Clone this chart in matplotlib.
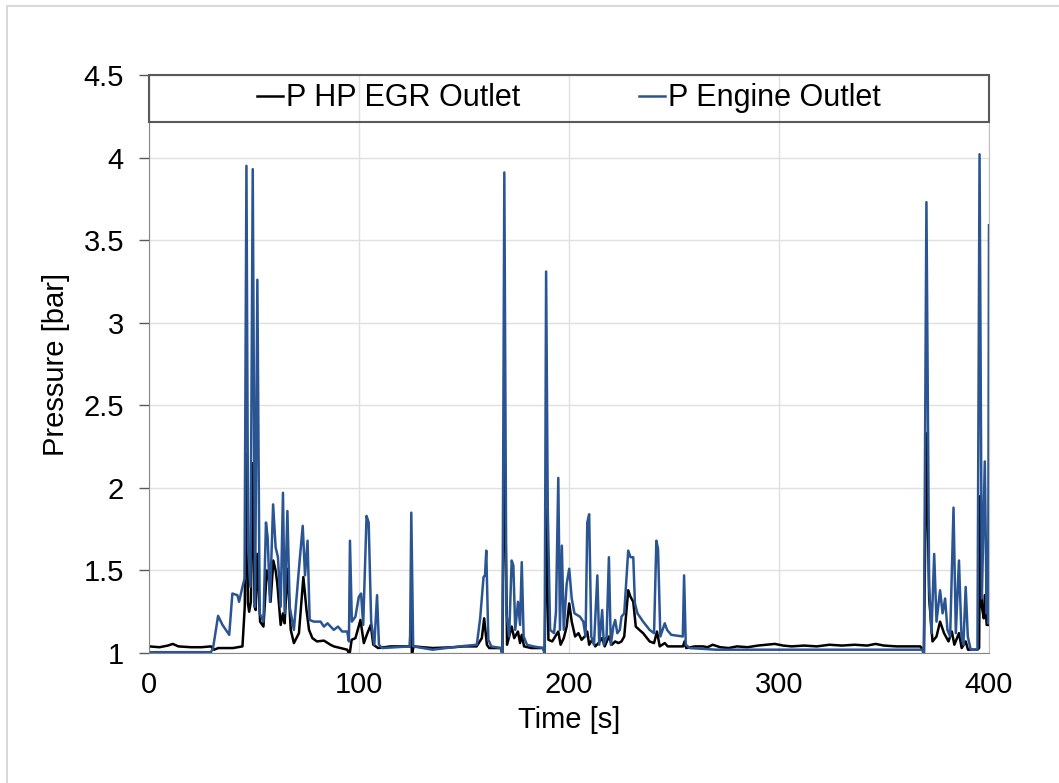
import numpy as np
import matplotlib
matplotlib.use('Agg')
import matplotlib.pyplot as plt
from matplotlib.patches import Rectangle
from matplotlib.lines import Line2D

# P Engine Outlet (blue)
t_engine = [0, 29.5, 30.5, 32.9, 35.0, 38.2, 39.7, 42.1, 42.9, 44.5, 45.5, 46.4, 47.2, 48.3,
            49.4, 50.5, 51.6, 52.7, 54.5, 55.7, 56.5, 57.6, 59.1, 60.3, 61.4, 62.7, 63.8,
            64.6, 65.9, 67.0, 69.0, 71.4, 73.2, 74.3, 75.5, 76.5, 78.5, 81.7, 83.3, 85.0,
            88.0, 90.0, 92.0, 94.4, 95.2, 95.7, 96.6, 98.3, 99.9, 101.0, 102.0, 103.6,
            104.6, 105.8, 107.3, 108.6, 109.5, 111.0, 124.3, 124.9, 125.8, 135.0, 148.0,
            156.1, 157.7, 159.3, 160.0, 160.6, 161.6, 163.0, 167.5, 168.3, 169.2, 170.2,
            171.5, 172.7, 173.5, 174.4, 175.7, 176.7, 177.5, 178.4, 180.0, 183.0, 187.8,
            188.4, 189.1, 189.9, 191.0, 192.9, 193.8, 194.9, 195.7, 196.6, 197.5, 198.9,
            200.1, 201.3, 202.6, 205.2, 206.8, 207.9, 208.7, 209.6, 210.6, 211.9, 213.5,
            214.4, 215.8, 216.6, 217.9, 219.0, 219.9, 221.1, 222.0, 223.0, 224.2, 225.0,
            226.3, 228.2, 229.3, 230.6, 231.4, 232.6, 235.3, 238.4, 240.5, 241.6, 242.4,
            243.5, 245.6, 246.7, 248.7, 254.2, 254.8, 255.6, 257.5, 270.0, 300.0, 368.3,
            369.0, 370.2, 371.5, 372.6, 373.9, 375.0, 376.7, 377.9, 379.1, 380.2, 381.5,
            383.1, 384.2, 385.7, 386.9, 387.8, 388.9, 389.9, 391.3, 394.5, 395.5, 396.6,
            398.0, 398.9, 399.3, 399.6, 400.0]
p_engine = [1.005, 1.005, 1.03, 1.225, 1.17, 1.11, 1.36, 1.35, 1.31, 1.40, 1.45, 3.95, 1.63, 1.40,
            3.93, 1.28, 3.26, 1.24, 1.19, 1.79, 1.70, 1.31, 1.90, 1.64, 1.58, 1.28, 1.97,
            1.24, 1.86, 1.28, 1.14, 1.51, 1.77, 1.47, 1.68, 1.20, 1.19, 1.19, 1.16, 1.18,
            1.14, 1.16, 1.13, 1.13, 1.07, 1.68, 1.19, 1.22, 1.34, 1.36, 1.17, 1.83,
            1.79, 1.19, 1.05, 1.35, 1.05, 1.03, 1.04, 1.85, 1.04, 1.02, 1.04,
            1.05, 1.21, 1.46, 1.47, 1.62, 1.08, 1.04, 1.03, 1.00, 3.91, 1.24,
            1.10, 1.56, 1.53, 1.14, 1.31, 1.17, 1.55, 1.10, 1.05, 1.04, 1.03,
            1.00, 3.31, 1.86, 1.14, 1.12, 1.25, 2.06, 1.14, 1.65, 1.14, 1.42,
            1.51, 1.33, 1.24, 1.22, 1.19, 1.10, 1.79, 1.84, 1.10, 1.05, 1.47,
            1.05, 1.26, 1.05, 1.10, 1.58, 1.05, 1.16, 1.20, 1.12, 1.14, 1.22,
            1.24, 1.62, 1.58, 1.58, 1.30, 1.24, 1.19, 1.14, 1.12, 1.68, 1.63,
            1.10, 1.18, 1.14, 1.11, 1.10, 1.47, 1.05, 1.03, 1.02, 1.02, 1.02,
            1.00, 3.73, 1.40, 1.12, 1.60, 1.19, 1.38, 1.24, 1.33, 1.14, 1.10,
            1.88, 1.12, 1.56, 1.10, 1.05, 1.40, 1.10, 1.02, 1.02, 4.02, 1.33,
            2.16, 1.24, 1.60, 1.18, 3.59]

# P HP EGR Outlet (black)
t_egr = [0, 5, 9, 11.3, 14, 20, 25, 29.5, 31.0, 33, 40, 44.5, 45.6, 46.4, 47.1, 47.7, 48.5,
         49.4, 50.3, 50.8, 51.6, 52.9, 54.5, 56.1, 56.9, 57.9, 59.2, 60.3, 61.1, 62.7, 63.8,
         64.6, 65.9, 67.5, 69.0, 71.4, 73.5, 75.0, 76.2, 77.8, 80.0, 83.3, 86.4, 88.0, 91.2,
         94.4, 95.5, 96.5, 98.3, 100.7, 102.3, 104.0, 105.6, 106.8, 109.1, 115, 124.2, 124.7,
         125.2, 126.0, 135, 145, 150, 156, 158.5, 159.6, 160.9, 162, 167.5, 168.3, 169.2,
         170.5, 172.7, 173.9, 175.7, 176.7, 177.5, 178.6, 182, 187.8, 188.4, 189.3, 190.2,
         192.0, 194.9, 196.0, 197.5, 198.9, 200.1, 201.3, 202.9, 204.5, 206.0, 207.5, 208.7,
         209.6, 211.0, 212.5, 214, 215.8, 217, 219.0, 220.4, 222.0, 223.5, 225.0, 226.3,
         227.4, 228.2, 229.3, 230.6, 231.8, 233.5, 235.3, 238.4, 240.5, 241.9, 243.2, 245.6,
         247, 250, 254.3, 255.0, 255.8, 260, 263.8, 266, 268.4, 272, 276, 280, 285, 290, 294,
         298, 302, 306, 312, 318, 324, 330, 336, 342, 346, 350, 356, 362, 367.3, 368.3,
         369.0, 370.2, 371.5, 373.1, 375.0, 376.7, 378.6, 380.7, 382.3, 383.5, 385.7, 387.0,
         388.9, 390.0, 394.5, 395.3, 395.8, 396.6, 397.5, 398.0, 398.9, 400.0]
p_egr = [1.04, 1.035, 1.045, 1.055, 1.04, 1.035, 1.035, 1.04, 1.02, 1.03, 1.03, 1.04, 1.28, 2.21,
         1.30, 1.25, 1.31, 2.15, 1.28, 1.26, 1.60, 1.19, 1.16, 1.50, 1.48, 1.31, 1.56, 1.50,
         1.42, 1.17, 1.24, 1.18, 1.51, 1.14, 1.06, 1.12, 1.46, 1.26, 1.14, 1.09, 1.07, 1.075,
         1.05, 1.04, 1.03, 1.02, 0.99, 1.08, 1.09, 1.20, 1.06, 1.12, 1.17, 1.05, 1.03, 1.04,
         1.04, 1.20, 0.99, 1.04, 1.03, 1.035, 1.04, 1.04, 1.09, 1.21, 1.05, 1.03, 1.03, 0.99,
         2.35, 1.05, 1.16, 1.09, 1.13, 1.06, 1.11, 1.04, 1.03, 1.03, 0.99, 1.87, 1.08, 1.07,
         1.13, 1.05, 1.09, 1.16, 1.30, 1.19, 1.10, 1.12, 1.08, 1.10, 1.13, 1.05, 1.08, 1.04,
         1.06, 1.09, 1.04, 1.10, 1.05, 1.07, 1.06, 1.07, 1.10, 1.26, 1.38, 1.34, 1.31, 1.16,
         1.14, 1.12, 1.07, 1.06, 1.13, 1.04, 1.06, 1.04, 1.04, 1.04, 1.07, 1.03, 1.04, 1.04,
         1.035, 1.05, 1.035, 1.03, 1.04, 1.035, 1.045, 1.05, 1.055, 1.045, 1.04, 1.045, 1.04,
         1.05, 1.045, 1.05, 1.045, 1.055, 1.045, 1.04, 1.04, 1.04, 1.02, 0.99, 2.33, 1.33,
         1.07, 1.10, 1.19, 1.12, 1.07, 1.13, 1.05, 1.12, 1.03, 1.07, 1.02, 1.02, 1.03, 1.95,
         1.28, 1.21, 1.35, 1.17, 1.17]

x_ticks = [0, 100, 200, 300, 400]
y_ticks = [1, 1.5, 2, 2.5, 3, 3.5, 4, 4.5]
y_tick_labels = ['1', '1.5', '2', '2.5', '3', '3.5', '4', '4.5']

plt.rcParams['font.family'] = ['Liberation Sans', 'DejaVu Sans']
blue = '#2A5592'

fig = plt.figure(figsize=(10.59, 7.83), dpi=100)
ax = fig.add_axes([149 / 1059, 1 - 653 / 783, (989 - 149) / 1059, (653 - 75) / 783])

# chart area border (top and left edges only visible)
fig.add_artist(Line2D([7 / 1059, 7 / 1059, 1.0], [0.0, 1 - 6 / 783, 1 - 6 / 783],
                      transform=fig.transFigure, color='#D9D9D9', lw=1.5))

ax.plot(t_egr, p_egr, color='black', lw=1.8, label='P HP EGR Outlet')
ax.plot(t_engine, p_engine, color=blue, lw=1.8, label='P Engine Outlet')

ax.set_xlim(0, 400)
ax.set_ylim(1, 4.5)
ax.set_xticks(x_ticks)
ax.set_yticks(y_ticks)
ax.set_yticklabels(y_tick_labels)
ax.grid(True, color='#E0E0E0', lw=1)
ax.set_axisbelow(True)
ax.tick_params(axis='x', length=0, pad=13, labelsize=21)
ax.tick_params(axis='y', length=7, width=1, color='#595959', pad=11, labelsize=21)

for side in ['left', 'bottom']:
    ax.spines[side].set_color('#868686')
ax.spines['right'].set_color('#BFBFBF')
ax.spines['top'].set_visible(False)

# legend box across the top of the plot
box_bottom = 1 + (653 - 122) / 165.1
ax.add_patch(Rectangle((0, box_bottom), 400, 4.5 - box_bottom, fill=False,
                       edgecolor='#595959', lw=1.5, clip_on=False, zorder=5))
ax.legend(loc='center', bbox_to_anchor=(0.5, ((box_bottom + 4.5) / 2 - 1) / 3.5),
          ncol=2, frameon=False, fontsize=22, handlelength=0.85, handletextpad=0.1,
          columnspacing=3.9, borderpad=0, borderaxespad=0)

ax.set_xlabel('Time [s]', fontsize=21, labelpad=5)
ax.set_ylabel('Pressure [bar]', fontsize=21, labelpad=10)

fig.savefig('out.png', dpi=100)
